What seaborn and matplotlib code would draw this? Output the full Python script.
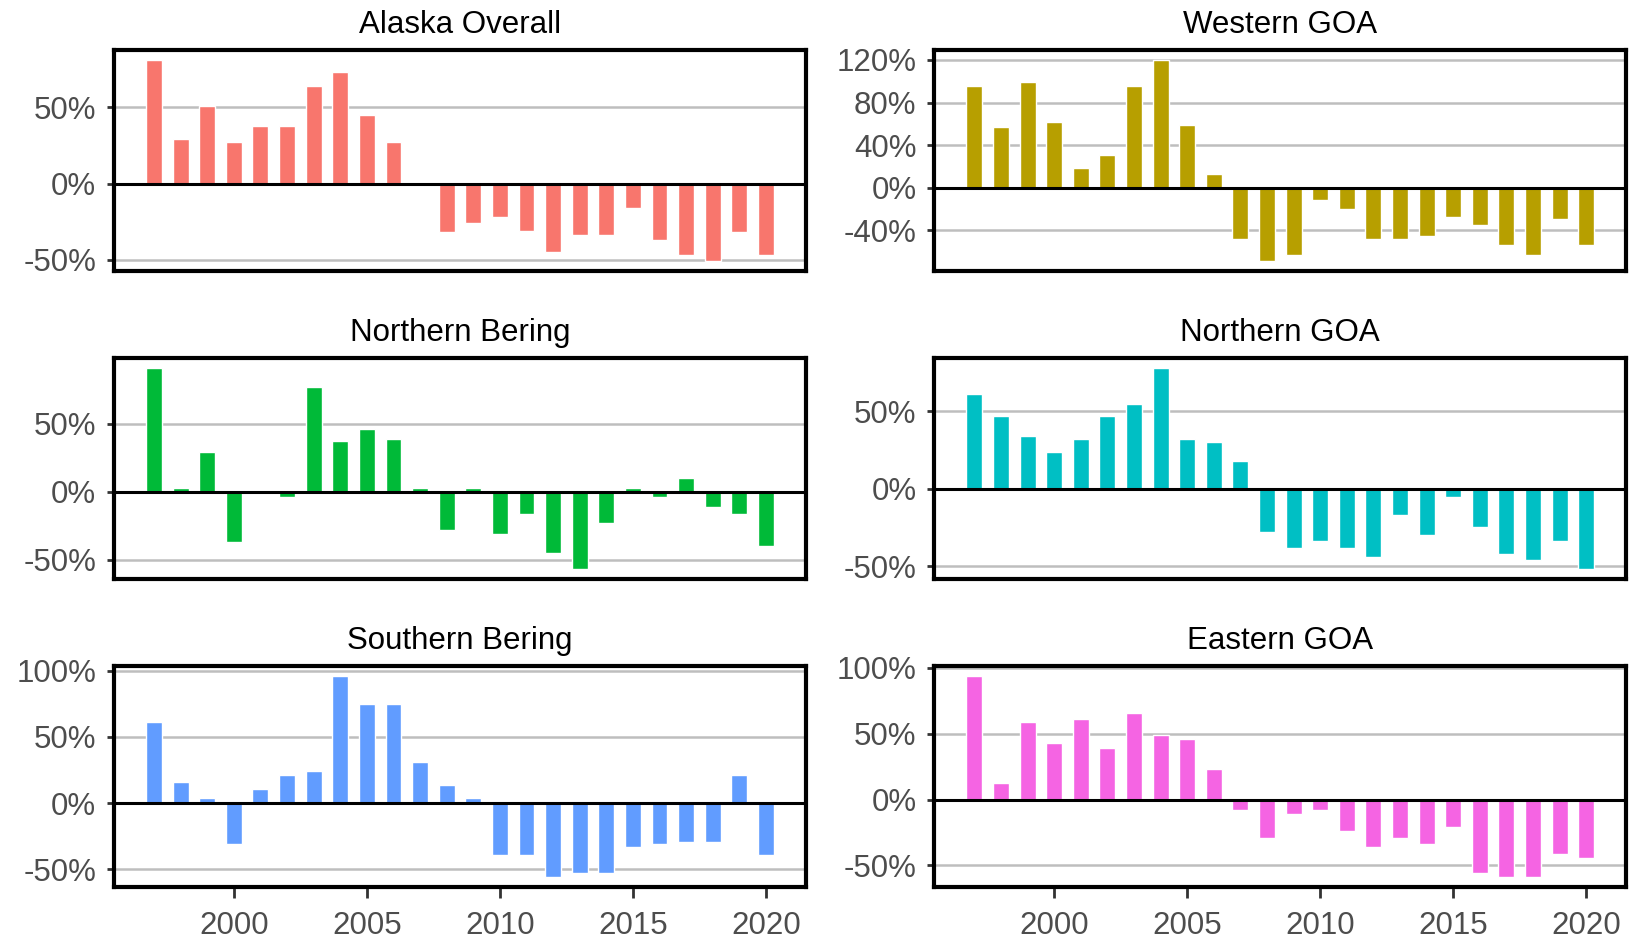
import numpy as np
import pandas as pd
import matplotlib
matplotlib.use("Agg")
import matplotlib.pyplot as plt
import seaborn as sns
from matplotlib.ticker import FuncFormatter, MultipleLocator

# percent change by year
years = list(range(1997, 2021))

alaska_overall = [81, 29, 51, 27, 38, 38, 64, 73, 45, 27, 0, -32,
                  -26, -22, -31, -45, -34, -34, -16, -37, -47, -51, -32, -47]
western_goa = [96, 57, 99, 62, 19, 31, 96, 120, 59, 13, -48, -69,
               -63, -11, -20, -48, -48, -45, -27, -35, -54, -63, -29, -54]
northern_bering = [91, 3, 29, -37, 0, -4, 77, 37, 46, 39, 3, -28,
                   3, -31, -16, -45, -57, -23, 3, -4, 10, -11, -16, -40]
northern_goa = [61, 47, 34, 24, 32, 47, 55, 78, 32, 30, 18, -28,
                -38, -34, -38, -44, -17, -30, -5, -25, -42, -46, -34, -52]
southern_bering = [61, 16, 4, -31, 11, 21, 24, 96, 75, 75, 31, 14,
                   4, -39, -39, -56, -53, -53, -33, -31, -29, -29, 21, -39]
eastern_goa = [94, 13, 59, 43, 61, 39, 66, 49, 46, 23, -8, -29,
               -11, -8, -24, -36, -29, -34, -21, -56, -59, -59, -41, -44]

titles = ["Alaska Overall", "Western GOA", "Northern Bering",
          "Northern GOA", "Southern Bering", "Eastern GOA"]
series = [alaska_overall, western_goa, northern_bering,
          northern_goa, southern_bering, eastern_goa]
colors = ["#F8766D", "#B79F00", "#00BA38", "#00BFC4", "#619CFF", "#F564E3"]
y_steps = [50, 40, 50, 50, 50, 50]
x_ticks = [2000, 2005, 2010, 2015, 2020]

sns.set_theme(style="white")
plt.rcParams["font.family"] = ["Liberation Sans", "DejaVu Sans"]

fig, axes = plt.subplots(3, 2, figsize=(16.31, 9.41), dpi=100)
plt.subplots_adjust(left=0.070, right=0.997, top=0.947, bottom=0.057,
                    wspace=0.186, hspace=0.39)

for i, ax in enumerate(axes.flat):
    df = pd.DataFrame({"year": years, "pct": series[i]})
    sns.barplot(data=df, x="year", y="pct", native_scale=True, width=0.6,
                color=colors[i], saturation=1, errorbar=None, ax=ax, zorder=2)

    # ggplot-like 5% expansion
    lo = min(0, df["pct"].min())
    hi = max(0, df["pct"].max())
    pad = (hi - lo) * 0.05
    ax.set_ylim(lo - pad, hi + pad)
    ax.set_xlim(1995.5, 2021.5)

    ax.yaxis.set_major_locator(MultipleLocator(y_steps[i]))
    ax.yaxis.set_major_formatter(FuncFormatter(lambda v, p: f"{v:.0f}%"))
    ax.set_axisbelow(True)
    ax.grid(axis="y", color="#BEBEBE", linewidth=1.8)
    ax.grid(axis="x", visible=False)
    ax.axhline(0, color="black", linewidth=2.2, zorder=3)

    for s in ax.spines.values():
        s.set_color("black")
        s.set_linewidth(3)
        s.set_zorder(4)

    ax.set_title(titles[i], fontsize=22.5, color="black", pad=12)
    ax.set_xlabel("")
    ax.set_ylabel("")
    ax.tick_params(axis="y", left=True, length=5, width=2, color="#333333",
                   labelsize=22.5, labelcolor="#4D4D4D", pad=8)
    ax.set_xticks(x_ticks)
    if i >= 4:
        ax.tick_params(axis="x", bottom=True, length=8, width=2, color="#333333",
                       labelsize=22.5, labelcolor="#4D4D4D", pad=9)
    else:
        ax.tick_params(axis="x", bottom=False, labelbottom=False)

fig.savefig("out.png", dpi=100)
